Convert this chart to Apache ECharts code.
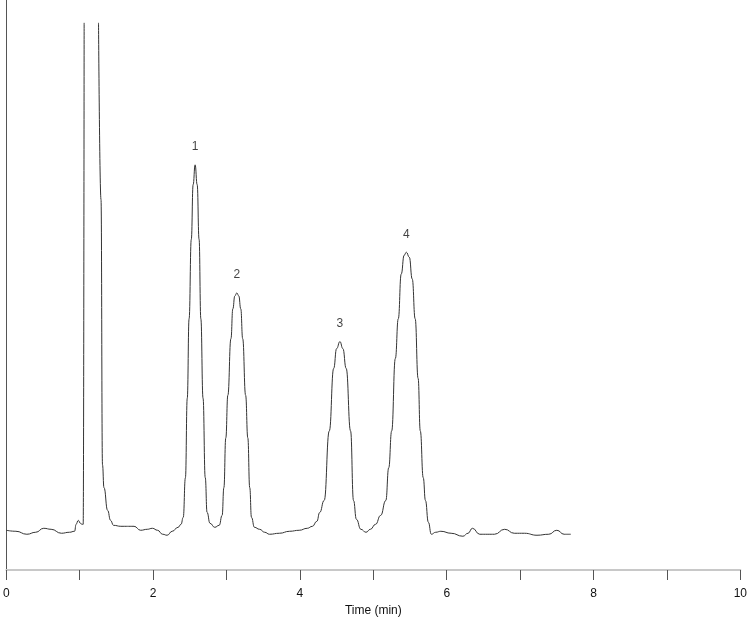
<!DOCTYPE html>
<html>
<head>
<meta charset="utf-8">
<script src="https://cdn.jsdelivr.net/npm/echarts@6/dist/echarts.min.js"></script>
<style>
  html, body { margin: 0; padding: 0; background: #fff; }
  #chart { width: 750px; height: 622px; }
</style>
</head>
<body>
<div id="chart"></div>
<script>
// chromatogram trace (null = off-scale break of the solvent peak)
const times = [
  0.00, 0.13, 0.28, 0.40, 0.51, 0.61, 0.75, 0.86, 0.93, 0.95, 0.98, 1.01, 1.03, 1.047,
  1.06, 1.15, 1.256,
  1.29, 1.31, 1.33, 1.38, 1.42, 1.46, 1.56, 1.74, 1.83, 1.92, 1.99, 2.06, 2.13, 2.19, 2.26, 2.34, 2.38, 2.41,
  2.44, 2.465, 2.49, 2.52, 2.545, 2.572, 2.60, 2.626, 2.65, 2.68, 2.71, 2.735, 2.775, 2.84, 2.90, 2.94,
  2.964, 2.99, 3.018, 3.06, 3.086, 3.113, 3.14, 3.167, 3.194, 3.22, 3.26, 3.29, 3.316, 3.34, 3.38,
  3.45, 3.52, 3.585, 3.72, 3.86, 3.99, 4.10, 4.17, 4.23, 4.27,
  4.33, 4.40, 4.46, 4.50, 4.545, 4.585, 4.63, 4.69, 4.73, 4.77, 4.83, 4.90, 4.96, 5.03, 5.10,
  5.17, 5.21, 5.25, 5.30, 5.34, 5.38, 5.42, 5.45, 5.49, 5.53, 5.57, 5.61, 5.64, 5.68, 5.71, 5.75, 5.79,
  5.85, 5.92, 6.06, 6.22, 6.29, 6.35, 6.45, 6.56, 6.65, 6.79, 6.92, 7.06, 7.23, 7.39, 7.50, 7.60, 7.69
];
const signal = [
  40, 39, 36, 38, 42, 41, 37, 38, 39, 46, 50, 47, 46, 46,
  551, null, 551,
  373, 106, 83, 60, 50, 45, 44, 44, 40, 41, 42, 40, 36, 35, 39, 43, 46, 53,
  93, 173, 253, 333, 388, 408, 388, 333, 253, 173, 93, 58, 47, 43, 45, 55,
  83, 133, 176, 233, 263, 276, 279, 276, 263, 233, 176, 133, 83, 53, 43,
  41, 38, 36, 37, 39, 40, 42, 44, 49, 58,
  70, 140, 203, 223, 230, 223, 203, 140, 70, 51, 41, 38, 41, 46, 55,
  70, 103, 140, 213, 253, 298, 317, 320, 315, 293, 253, 193, 140, 93, 70, 48, 36,
  38, 39, 37, 34, 37, 42, 36, 36, 36, 41, 37, 37, 35, 36, 40, 36, 36
];

// numbered peaks
const peakNames = ['1', '2', '3', '4'];
const peakTimes = [2.572, 3.14, 4.545, 5.45];
const peakHeights = [408, 279, 230, 320];

const xTicks = [0, 2, 4, 6, 8, 10];

const chart = echarts.init(document.getElementById('chart'));

const option = {
  animation: false,
  grid: { left: 4.5, right: 5, top: 0, bottom: 48 },
  xAxis: {
    type: 'value',
    min: 0,
    max: 10,
    interval: 1,
    name: 'Time (min)',
    nameLocation: 'middle',
    nameGap: 35,
    nameTextStyle: { color: '#111', fontSize: 12, fontFamily: 'Liberation Sans' },
    axisLine: { lineStyle: { color: '#c8c8c8', width: 2 } },
    axisTick: { length: 10, lineStyle: { color: '#555' } },
    axisLabel: {
      color: '#111',
      fontSize: 12,
      fontFamily: 'Liberation Sans',
      margin: 18,
      showMinLabel: true,
      showMaxLabel: true,
      formatter: v => xTicks.includes(v) ? String(v) : ''
    },
    splitLine: { show: false }
  },
  yAxis: {
    type: 'value',
    min: 0,
    max: 574,
    axisLine: { show: true, lineStyle: { color: '#555' } },
    axisTick: { show: false },
    axisLabel: { show: false },
    splitLine: { show: false }
  },
  series: [
    {
      type: 'line',
      data: times.map((t, i) => [t, signal[i]]),
      connectNulls: false,
      showSymbol: false,
      smooth: 0.5,
      smoothMonotone: 'x',
      lineStyle: { color: '#333', width: 1 }
    },
    {
      type: 'scatter',
      symbolSize: 0,
      data: peakTimes.map((t, i) => ({ value: [t, peakHeights[i]], name: peakNames[i] })),
      label: {
        show: true,
        position: 'top',
        distance: 12,
        formatter: p => p.name,
        color: '#111',
        fontSize: 12,
        fontFamily: 'Liberation Sans'
      }
    }
  ]
};

chart.setOption(option);
</script>
</body>
</html>
